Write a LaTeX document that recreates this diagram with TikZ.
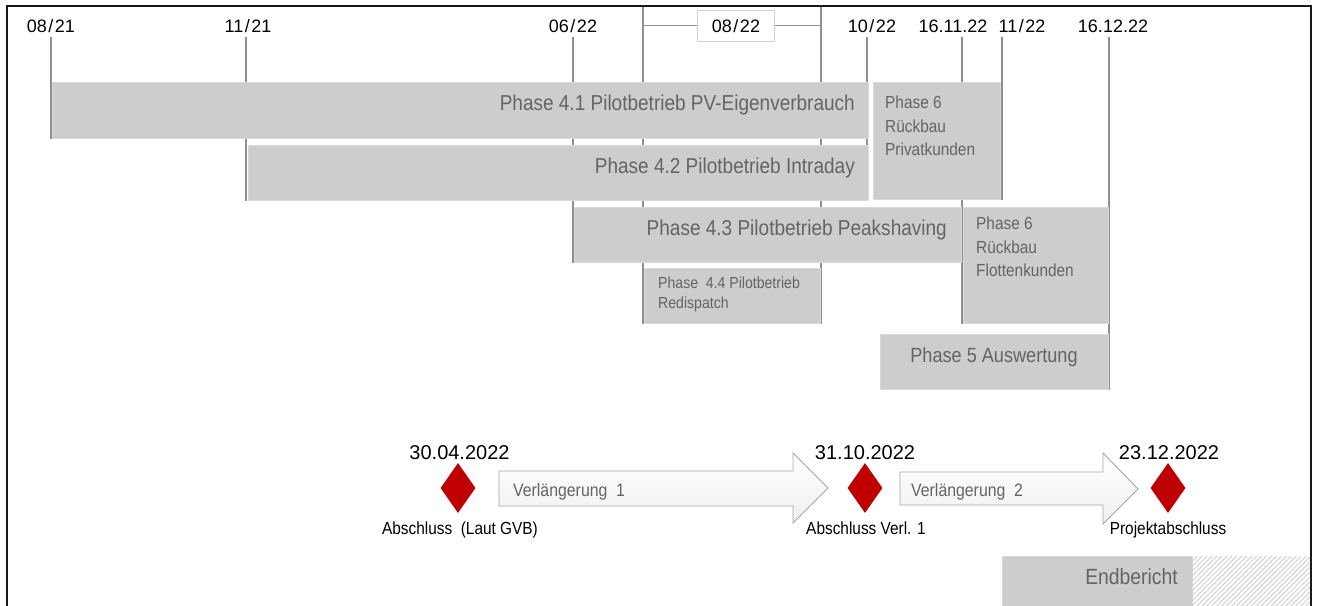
\documentclass[tikz,border=0pt]{standalone}
\usepackage{fontspec}
\setmainfont[FakeStretch=0.88]{Liberation Sans}
\newfontfamily\datefont{Liberation Sans}
\usetikzlibrary{shapes.geometric,patterns.meta}
\definecolor{barfill}{HTML}{CDCDCD}
\definecolor{baredge}{HTML}{D9D9D9}
\definecolor{bartext}{HTML}{646464}
\definecolor{linegray}{HTML}{8E9096}
\definecolor{msred}{HTML}{C00000}
\pgfdeclarelayer{bg}
\pgfsetlayers{bg,main}
\tikzset{
  bar/.style={fill=barfill, draw=baredge, line width=1pt, inner sep=0pt, anchor=north west},
  bigtext/.style={text=bartext, inner sep=0pt, font=\fontsize{21.6}{25}\selectfont},
  smalltext/.style={text=bartext, inner sep=0pt, align=left, anchor=north west},
  topdate/.style={inner sep=0pt, anchor=base, font=\datefont\fontsize{18}{20}\selectfont},
  msdate/.style={inner sep=0pt, anchor=base, font=\datefont\fontsize{20}{24}\selectfont},
  mslabel/.style={inner sep=0pt, anchor=base, font=\fontsize{17.5}{20}\selectfont},
  vline/.style={draw=linegray, line width=1.4pt},
  ms/.style={diamond, fill=msred, minimum width=35pt, minimum height=50pt, inner sep=0pt},
  bigarrow/.style={draw=black!35, line width=0.9pt, top color=white, bottom color=black!6},
  arrowtext/.style={text=bartext, inner sep=0pt, anchor=base west, font=\fontsize{18}{22}\selectfont},
}
\begin{document}
\begin{tikzpicture}[x=1pt,y=-1pt]
\useasboundingbox (0,0) rectangle (1322,605);

% frame
\draw[line width=2.5pt, draw=black!90] (7,620) -- (7,6) -- (1311,6) -- (1311,620);

% top dates
\node[topdate] (d0821) at (51,32) {08\kern1.5pt/\kern1.5pt21};
\node[topdate] (d1121) at (248,32) {11\kern1.5pt/\kern1.5pt21};
\node[topdate] (d0622) at (573,32) {06\kern1.5pt/\kern1.5pt22};
\node[draw=black!18, fill=white, minimum width=77pt, minimum height=31pt, inner sep=0pt] (box0822) at (736,25.5) {};
\node[topdate] (d0822) at (736,32) {08\kern1.5pt/\kern1.5pt22};
\node[topdate] (d1022) at (872,32) {10\kern1.5pt/\kern1.5pt22};
\node[topdate] (d161122) at (953,32) {16.11.22};
\node[topdate] (d1122) at (1022,32) {11\kern1.5pt/\kern1.5pt22};
\node[topdate] (d161222) at (1113,32) {16.12.22};

% line tops
\coordinate (t0821) at (51,37);
\coordinate (t1121) at (246,37);
\coordinate (t0622) at (573,37);
\coordinate (tA) at (643,6);
\coordinate (tB) at (821,6);
\coordinate (t1022) at (867,37);
\coordinate (t161122) at (962,37);
\coordinate (t1122) at (1002,37);
\coordinate (t161222) at (1109,37);

% bars
\node[bar, minimum width=816pt, minimum height=56pt] (b41) at (52,82) {};
\node[bigtext, anchor=base east] (x41) at (855,110) {Phase 4.1 Pilotbetrieb PV-Eigenverbrauch};
\node[bar, minimum width=620pt, minimum height=55pt] (b42) at (248,145) {};
\node[bigtext, anchor=base east] (x42) at (855,173) {Phase 4.2 Pilotbetrieb Intraday};
\node[bar, minimum width=387pt, minimum height=55pt] (b43) at (574,207) {};
\node[bigtext, anchor=base east] (x43) at (947,235) {Phase 4.3 Pilotbetrieb Peakshaving};
\node[bar, minimum width=176pt, minimum height=55pt] (b44) at (644,268) {};
\node[smalltext, font=\fontsize{16}{20}\selectfont] (x44) at (658,277) {Phase\ \ 4.4 Pilotbetrieb\\Redispatch};
\node[bar, minimum width=127pt, minimum height=117pt] (b6p) at (873,82) {};
\node[smalltext, font=\fontsize{17.5}{23.5}\selectfont] (x6p) at (885,96) {Phase 6\\Rückbau\\Privatkunden};
\node[bar, minimum width=145pt, minimum height=116pt] (b6f) at (963,207) {};
\node[smalltext, font=\fontsize{17.5}{23.5}\selectfont] (x6f) at (976,217) {Phase 6\\Rückbau\\Flottenkunden};
\node[bar, minimum width=228pt, minimum height=55pt] (b5) at (880,334) {};
\node[bigtext, anchor=base, font=\fontsize{20.6}{23}\selectfont] (x5) at (994,362) {Phase 5 Auswertung};
\node[bar, minimum width=190pt, minimum height=60pt] (bend) at (1002,556) {};
\node[bigtext, anchor=base east, font=\fontsize{22}{24}\selectfont] (xend) at (1178,584) {Endbericht};
\path[pattern={Lines[angle=45,distance=3.5pt,line width=1pt]}, pattern color=black!18] (1192,556) rectangle (1310,620);

% vertical lines (behind bars)
\begin{pgfonlayer}{bg}
\draw[vline] (t0821) -- (t0821 |- b41.south);
\draw[vline] (t1121) -- (t1121 |- b42.south);
\draw[vline] (t0622) -- (t0622 |- b43.south);
\draw[vline] (tA) -- (tA |- b44.south);
\draw[vline] (tB) -- (tB |- b44.south);
\draw[vline] (t1022) -- (t1022 |- b42.south);
\draw[vline] (t161122) -- (t161122 |- b6f.south);
\draw[vline] (t1122) -- (t1122 |- b6p.south);
\draw[vline] (t161222) -- (t161222 |- b5.south);
\draw[vline] (tA |- box0822.west) -- (box0822.west);
\draw[vline] (box0822.east) -- (tB |- box0822.east);
\end{pgfonlayer}

% milestones
\node[ms] (m1) at (458,488) {};
\node[ms] (m2) at (865,488) {};
\node[ms] (m3) at (1168,488) {};
\node[msdate] (md1) at (459.5,459) {30.04.2022};
\node[msdate] (md2) at (865,459) {31.10.2022};
\node[msdate] (md3) at (1169,459) {23.12.2022};
\node[mslabel] (ml1) at (460,534) {Abschluss\ \ (Laut GVB)};
\node[mslabel] (ml2) at (866,534) {Abschluss\ Verl. 1};
\node[mslabel] (ml3) at (1168,534) {Projektabschluss};

% extension arrows
\draw[bigarrow] (499,471) -- (793,471) -- (793,453) -- (828,488) -- (793,523) -- (793,506) -- (499,506) -- cycle;
\node[arrowtext] (v1) at (513,496) {Verlängerung\ \ 1};
\draw[bigarrow] (900,472) -- (1103,472) -- (1103,453) -- (1138,489) -- (1103,524) -- (1103,505) -- (900,505) -- cycle;
\node[arrowtext] (v2) at (911,496) {Verlängerung\ \ 2};
\end{tikzpicture}
\end{document}
